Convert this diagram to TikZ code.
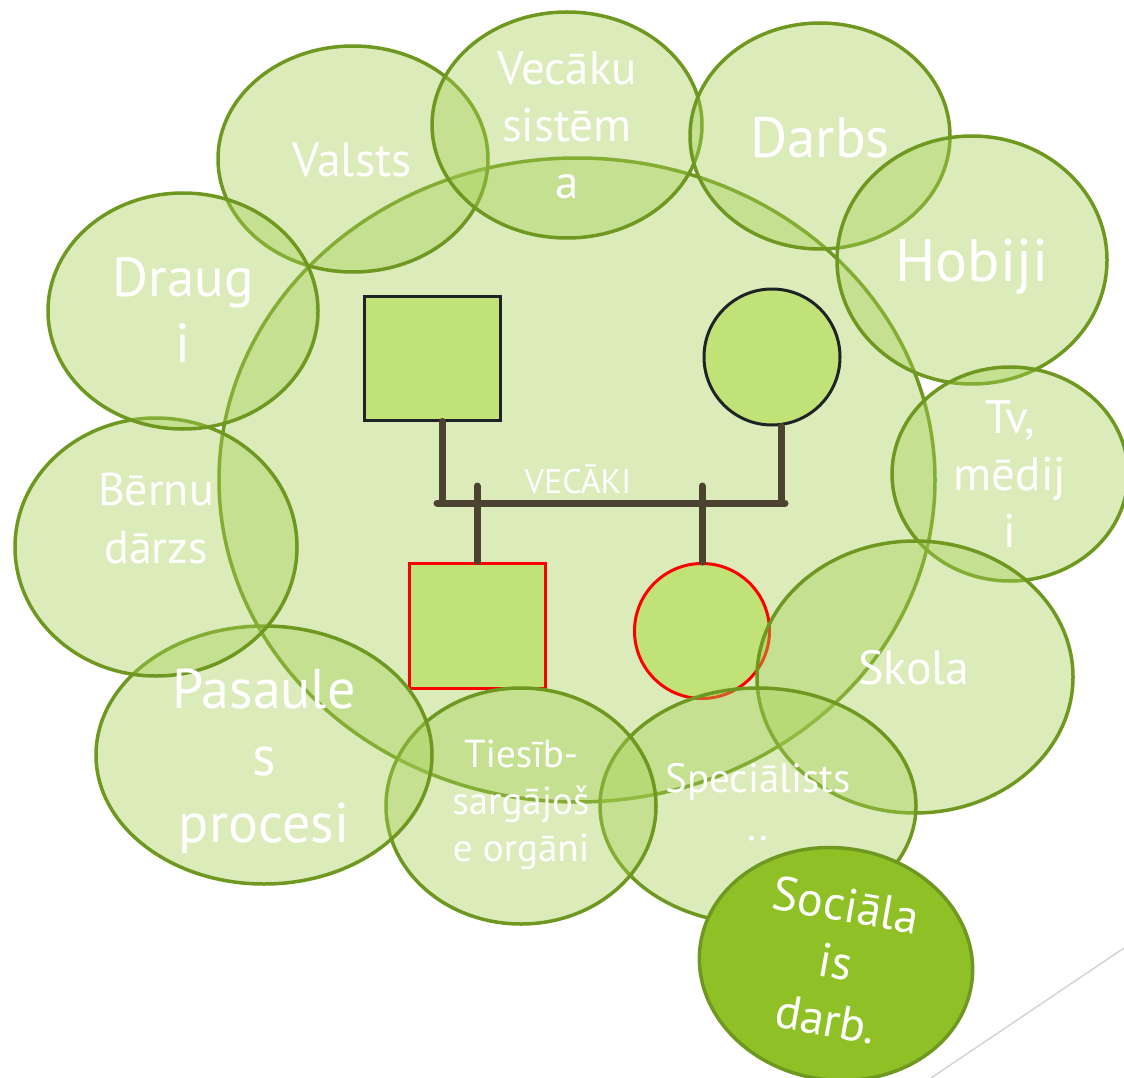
\documentclass[tikz,border=0pt]{standalone}
\usepackage{fontspec}
\setmainfont{PT Sans}
\usetikzlibrary{shapes.geometric,calc}
\definecolor{bubfill}{RGB}{165,206,82}
\definecolor{bubline}{RGB}{110,152,32}
\definecolor{famfill}{RGB}{193,226,119}
\definecolor{famline}{RGB}{30,35,38}
\definecolor{conncol}{RGB}{75,67,48}
\definecolor{socfill}{RGB}{143,193,38}
\definecolor{edgegray}{RGB}{212,212,212}
\begin{document}
\begin{tikzpicture}[x=1pt,y=-1pt,
  bubble/.style={ellipse, draw=bubline, line width=3.5pt, fill=bubfill, fill opacity=0.4, inner sep=0pt},
  solidbubble/.style={ellipse, draw=bubline, line width=3.5pt, fill=socfill, inner sep=0pt},
  fambox/.style={draw=famline, line width=3pt, fill=famfill, inner sep=0pt},
  childbox/.style={draw=red, line width=3pt, fill=famfill, inner sep=0pt},
  conn/.style={draw=conncol, line width=7pt, line cap=round},
  txt/.style={text=white, align=center, inner sep=0pt}
]
\useasboundingbox (0,0) rectangle (1124,1078);
\clip (0,0) rectangle (1124,1078);

% central ellipse
\node[bubble, minimum width=716pt, minimum height=644pt] (center) at (577,480) {};

% parents and children
\node[fambox, rectangle, minimum width=136pt, minimum height=124pt] (father) at (432,358) {};
\node[fambox, circle, minimum size=136pt] (mother) at (772,357) {};
\node[childbox, rectangle, minimum width=136pt, minimum height=125pt] (son) at (477,625.5) {};
\node[childbox, circle, minimum size=135pt] (daughter) at (702,631) {};

\coordinate (barL) at (437,503);
\coordinate (barR) at (785,503);
\coordinate (sonTop) at (477,486);
\coordinate (dauTop) at (702,486);

\draw[conn] (barL) -- (barR);
\draw[conn] ([xshift=10pt]father.south) -- ([xshift=10pt]father.south |- barL);
\draw[conn] ([xshift=9pt]mother.south) -- ([xshift=9pt]mother.south |- barL);
\draw[conn] (sonTop) -- (son.north);
\draw[conn] (dauTop) -- (daughter.north);

\node[txt, anchor=base, font=\fontsize{34}{40}\selectfont] (vecaki) at (578,493) {VECĀKI};

% outer bubbles
\node[bubble, minimum width=270pt, minimum height=226pt] (valsts) at (353,159) {};
\node[bubble, minimum width=270pt, minimum height=226pt] (vecaku) at (567,125) {};
\node[bubble, minimum width=260pt, minimum height=226pt] (darbs) at (820,136) {};
\node[bubble, minimum width=270pt, minimum height=248pt] (hobiji) at (972,260) {};
\node[bubble, minimum width=236pt, minimum height=214pt] (tv) at (1010,474) {};
\node[bubble, minimum width=316pt, minimum height=272pt] (skola) at (915,677) {};
\node[bubble, minimum width=316pt, minimum height=236pt] (special) at (758,806) {};
\node[bubble, minimum width=270pt, minimum height=236pt] (tiesib) at (521,806) {};
\node[bubble, minimum width=336pt, minimum height=258pt] (pasaule) at (264,755) {};
\node[bubble, minimum width=282pt, minimum height=258pt] (bernu) at (156,547) {};
\node[bubble, minimum width=270pt, minimum height=236pt] (draugi) at (183,311) {};
\node[solidbubble, rotate=-8, minimum width=274pt, minimum height=232pt] (social) at (836,964) {};

% texts
\node[txt, anchor=base, font=\fontsize{48}{58}\selectfont] (tvalsts) at (352,177) {Valsts};
\node[txt, font=\fontsize{47}{57}\selectfont] (tvecaku) at (567,125) {Vecāku\\sistēm\\a};
\node[txt, anchor=base, font=\fontsize{57}{68}\selectfont] (tdarbs) at (820,158) {Darbs};
\node[txt, anchor=base, font=\fontsize{60}{72}\selectfont] (thobiji) at (972,281) {Hobiji};
\node[txt, font=\fontsize{47}{57}\selectfont] (ttv) at (1010,474) {Tv,\\mēdij\\i};
\node[txt, anchor=base, font=\fontsize{48}{58}\selectfont] (tskola) at (914,684) {Skola};
\node[txt, font=\fontsize{41}{48}\selectfont] (tspecial) at (758,802) {Speciālists\\..};
\node[txt, font=\fontsize{39}{47}\selectfont] (ttiesib) at (521,805) {Tiesīb-\\sargājoš\\e orgāni};
\node[txt, font=\fontsize{56}{67}\selectfont] (tpasaule) at (264,761) {Pasaule\\s\\procesi};
\node[txt, font=\fontsize{46}{58}\selectfont] (tbernu) at (156,518) {Bērnu\\dārzs};
\node[txt, font=\fontsize{55}{66}\selectfont] (tdraugi) at (183,310) {Draug\\i};
\node[txt, rotate=-10, font=\fontsize{48}{58}\selectfont] (tsocial) at (836,962) {Sociāla\\is\\darb.};

% decorative corner line
\draw[edgegray, line width=1.5pt] (925,1082) -- (1130,944);
\end{tikzpicture}
\end{document}
